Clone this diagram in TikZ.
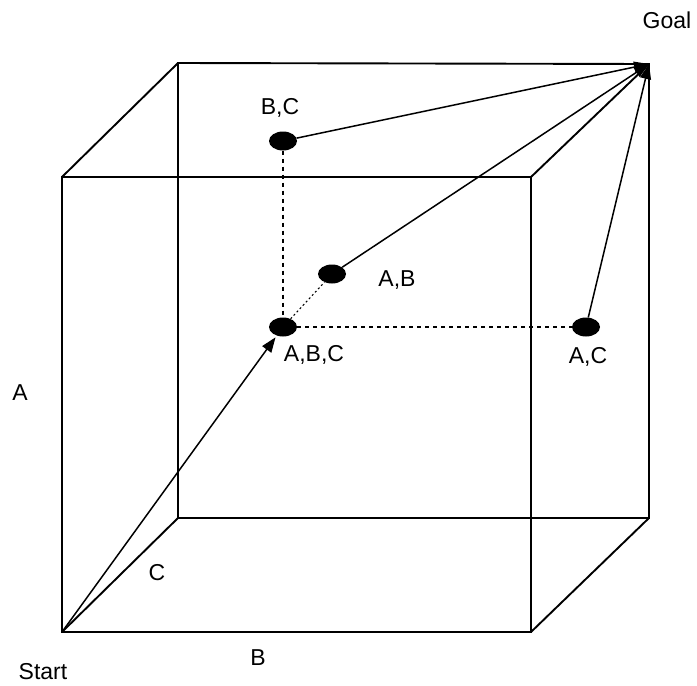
\documentclass[tikz,border=0pt]{standalone}
\usepackage{fontspec}
\setmainfont{Liberation Sans}
\usetikzlibrary{shapes.geometric,arrows.meta}
\begin{document}
\begin{tikzpicture}[x=1pt,y=-1pt,
  edge/.style={line width=1.9pt},
  dot/.style={ellipse,fill=black,minimum width=28pt,minimum height=19pt,inner sep=0pt},
  lbl/.style={font=\fontsize{23}{27}\selectfont,inner sep=0pt},
  arr/.style={line width=1.5pt,-{Triangle[length=15pt,width=11pt]}},
  dsh/.style={line width=1.1pt,dash pattern=on 4pt off 4pt},
  dtt/.style={line width=1.1pt,dash pattern=on 2pt off 2.5pt}]
\useasboundingbox (0,0) rectangle (697,686);
% cube corners
\coordinate (f1) at (62,177);
\coordinate (f2) at (531,177);
\coordinate (f3) at (531,632);
\coordinate (start) at (62,632);
\coordinate (b1) at (178,63);
\coordinate (goal) at (649,64);
\coordinate (b3) at (649,518);
\coordinate (b4) at (178,518);
\draw[edge] (f1) -- (f2) -- (f3) -- (start) -- cycle;
\draw[edge] (b1) -- (goal) -- (b3) -- (b4) -- cycle;
\draw[edge] (f1) -- (b1);
\draw[edge] (f2) -- (goal);
\draw[edge] (f3) -- (b3);
\draw[edge] (start) -- (b4);
% nodes
\node[dot] (bc) at (283,141) {};
\node[dot] (ab) at (332,274) {};
\node[dot] (abc) at (283,327) {};
\node[dot] (ac) at (586,327) {};
% dashed
\draw[dsh] (bc) -- (abc);
\draw[dsh] (abc) -- (ac);
\draw[dtt] (abc) -- (ab);
% arrows
\draw[arr,shorten >=2pt] (start) -- (abc);
\draw[arr] (bc) -- (goal);
\draw[arr] (ab) -- (goal);
\draw[arr] (ac) -- (goal);
% labels
\node[lbl] (lgoal) at (667,20) {Goal};
\node[lbl] (la) at (20,393) {A};
\node[lbl] (lb) at (258,658) {B};
\node[lbl] (lc) at (157,573) {C};
\node[lbl] (lstart) at (43,672) {Start};
\node[lbl] (lbc) at (280,108) {B,C};
\node[lbl] (lab) at (397,280) {A,B};
\node[lbl] (labc) at (314,355) {A,B,C};
\node[lbl] (lac) at (588,357) {A,C};
\end{tikzpicture}
\end{document}
